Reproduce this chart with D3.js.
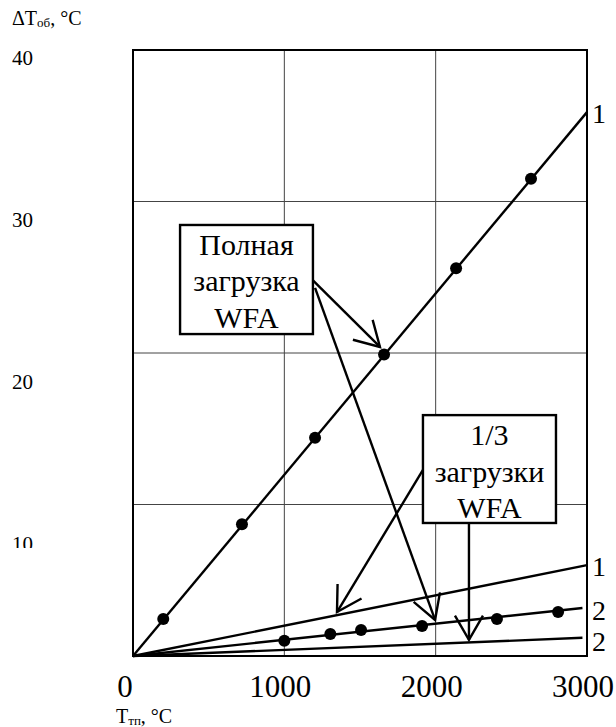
<!DOCTYPE html>
<html><head><meta charset="utf-8">
<script src="https://cdn.jsdelivr.net/npm/d3@7/dist/d3.min.js"></script>
<style>
html,body{margin:0;padding:0;background:#fff;}
svg{display:block;}
svg text{font-family:"Liberation Serif","DejaVu Serif","Times New Roman",serif;}
</style></head>
<body>
<svg id="c" width="616" height="727" font-family="Liberation Serif, DejaVu Serif, serif"></svg>
<script>
// ---- data ----
const xTicks = [0, 1000, 2000, 3000];
const yTickLabels = [40, 30, 20, 10];
const xGrid = [1000, 2000];
const yGrid = [10, 20, 30];
// full load, curve 1 (measured points + fit line)
const full1Points = [[200, 2.44], [720, 8.7], [1203, 14.4], [1659, 19.9], [2135, 25.6], [2630, 31.5]];
const full1Line = [[0, 0], [3000, 35.9]];
// 1/3 load curves
const third1Line = [[0, 0], [3000, 6.0]];
const full2Points = [[1000, 1.0], [1304, 1.45], [1507, 1.72], [1910, 1.98], [2405, 2.44], [2809, 2.9]];
const full2Line = [[0, 0], [2970, 3.17]];
const third2Line = [[0, 0], [2970, 1.2]];
const curveLabels = [{t: "1", x: 3000, y: 35.9}, {t: "1", x: 3000, y: 6.0}, {t: "2", x: 3000, y: 3.17}, {t: "2", x: 3000, y: 1.2}];
const curveLabelDy = [11, 11, 12, 13];
// annotation boxes (data coords)
const box1 = {x0: 311, x1: 1189, y0: 28.45, y1: 21.25, lines: ["Полная", "загрузка", "WFA"]};
const box2 = {x0: 1916, x1: 2795, y0: 15.9, y1: 8.78, lines: ["1/3", "загрузки", "WFA"]};
const arrows = [
  [[1189, 24.8], [1632, 20.4]],
  [[1203, 24.3], [1996, 2.38]],
  [[1916, 12.28], [1348, 2.9]],
  [[2220, 8.78], [2220, 1.06]]
];

// ---- layout ----
const svg = d3.select("#c");
const L = 133, R = 587, T = 50, B = 656;
const x = d3.scaleLinear().domain([0, 3000]).range([L, R]);
const y = d3.scaleLinear().domain([0, 40]).range([B, T]);
const yLab = d3.scaleLinear().domain([10, 40]).range([551, 65]);

// grid
svg.append("g").selectAll("line").data(xGrid).join("line")
  .attr("x1", d => x(d)).attr("x2", d => x(d)).attr("y1", T).attr("y2", B)
  .attr("stroke", "#444").attr("stroke-width", 1);
svg.append("g").selectAll("line").data(yGrid).join("line")
  .attr("x1", L).attr("x2", R).attr("y1", d => y(d)).attr("y2", d => y(d))
  .attr("stroke", "#444").attr("stroke-width", 1);

// frame
svg.append("rect").attr("x", L).attr("y", T).attr("width", R - L).attr("height", B - T)
  .attr("fill", "none").attr("stroke", "#000").attr("stroke-width", 2);

// lines
const line = d3.line().x(d => x(d[0])).y(d => y(d[1]));
[full1Line, third1Line, full2Line, third2Line].forEach(l => {
  svg.append("path").attr("d", line(l)).attr("fill", "none").attr("stroke", "#000").attr("stroke-width", 2.4);
});
// points
svg.append("g").selectAll("circle").data(full1Points.concat(full2Points)).join("circle")
  .attr("cx", d => x(d[0])).attr("cy", d => y(d[1])).attr("r", 6).attr("fill", "#000");

// curve labels
svg.append("g").selectAll("text").data(curveLabels).join("text")
  .attr("x", d => x(d.x) + 5).attr("y", (d, i) => y(d.y) + curveLabelDy[i])
  .attr("font-size", 28).text(d => d.t);

// boxes
[box1, box2].forEach(b => {
  svg.append("rect").attr("x", x(b.x0)).attr("y", y(b.y0))
    .attr("width", x(b.x1) - x(b.x0)).attr("height", y(b.y1) - y(b.y0))
    .attr("fill", "#fff").attr("stroke", "#000").attr("stroke-width", 2.4);
  const cx = (x(b.x0) + x(b.x1)) / 2;
  const top = y(b.y0);
  b.lines.forEach((t, i) => {
    svg.append("text").attr("x", cx).attr("y", top + 30 + i * 36.5)
      .attr("text-anchor", "middle").attr("font-size", 30).text(t);
  });
});

// arrows with open V heads
arrows.forEach(a => {
  const x1 = x(a[0][0]), y1 = y(a[0][1]), x2 = x(a[1][0]), y2 = y(a[1][1]);
  svg.append("line").attr("x1", x1).attr("y1", y1).attr("x2", x2).attr("y2", y2)
    .attr("stroke", "#000").attr("stroke-width", 2.4);
  const ang = Math.atan2(y1 - y2, x1 - x2);
  const len = 28, ha = 30 * Math.PI / 180;
  const p1 = [x2 + len * Math.cos(ang + ha), y2 + len * Math.sin(ang + ha)];
  const p2 = [x2 + len * Math.cos(ang - ha), y2 + len * Math.sin(ang - ha)];
  svg.append("path").attr("d", `M${p1[0]},${p1[1]}L${x2},${y2}L${p2[0]},${p2[1]}`)
    .attr("fill", "none").attr("stroke", "#000").attr("stroke-width", 2.4);
});

// x tick labels
svg.append("g").selectAll("text").data(xTicks).join("text")
  .attr("x", d => x(d) - (d === 0 ? 8 : 4)).attr("y", 697)
  .attr("text-anchor", "middle").attr("font-size", 31).text(d => d);

// y tick labels (clipped at bottom as in original)
const defs = svg.append("defs");
defs.append("clipPath").attr("id", "yclip").append("rect")
  .attr("x", 0).attr("y", 0).attr("width", 120).attr("height", 548);
svg.append("g").attr("clip-path", "url(#yclip)").selectAll("text").data(yTickLabels).join("text")
  .attr("x", 12).attr("y", d => yLab(d)).attr("font-size", 21).text(d => d);

// axis titles
const yt = svg.append("text").attr("x", 12).attr("y", 25).attr("font-size", 20);
yt.append("tspan").text("ΔT");
yt.append("tspan").attr("font-size", 13).attr("dy", 2).text("об");
yt.append("tspan").attr("dy", -2).text(", °C");

const xt = svg.append("text").attr("x", 116).attr("y", 723).attr("font-size", 20);
xt.append("tspan").text("T");
xt.append("tspan").attr("font-size", 13).attr("dy", 2).text("тп");
xt.append("tspan").attr("dy", -2).text(", °C");
</script>
</body></html>
